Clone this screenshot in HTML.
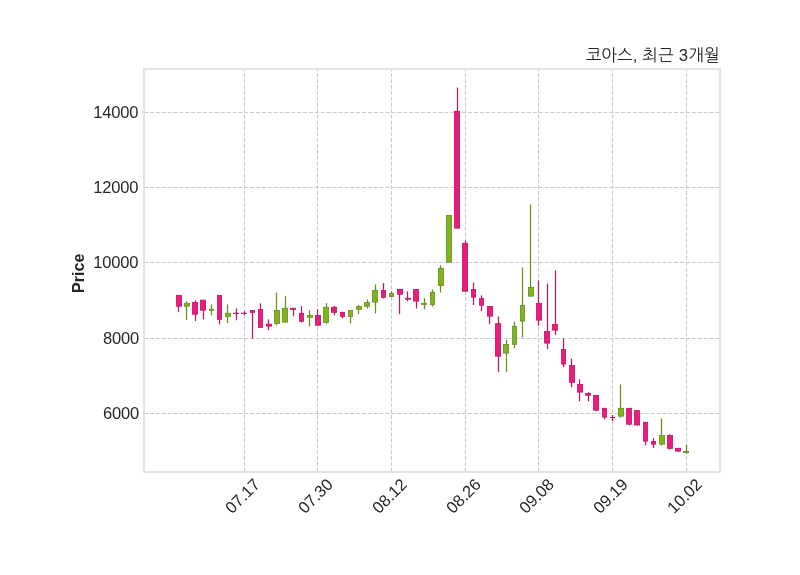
<!DOCTYPE html>
<html lang="ko"><head><meta charset="utf-8"><title>코아스, 최근 3개월</title>
<style>
html,body{margin:0;padding:0;background:#fff;}
svg{display:block}
text{font-family:"Liberation Sans","NanumGothic",sans-serif;fill:#262626}
.tk{font-size:16.5px;letter-spacing:-0.17px}
.xt{font-size:16.5px;letter-spacing:-0.06px}
.ttl{font-family:"Liberation Sans","NanumGothic","Noto Sans CJK KR",sans-serif;font-size:16.67px}
.yl{font-size:16.05px;font-weight:bold}
</style></head><body>
<svg width="800" height="575" viewBox="0 0 800 575">
<rect x="0" y="0" width="800" height="575" fill="#ffffff"/>

<g stroke="#cbcbcb" stroke-width="1.11" stroke-dasharray="4.11 1.78" fill="none">
<line x1="144.0" y1="112.5" x2="720.0" y2="112.5"/>
<line x1="144.0" y1="187.5" x2="720.0" y2="187.5"/>
<line x1="144.0" y1="262.5" x2="720.0" y2="262.5"/>
<line x1="144.0" y1="338.5" x2="720.0" y2="338.5"/>
<line x1="144.0" y1="413.5" x2="720.0" y2="413.5"/>
<line x1="244.5" y1="472.0" x2="244.5" y2="69.0"/>
<line x1="317.5" y1="472.0" x2="317.5" y2="69.0"/>
<line x1="391.5" y1="472.0" x2="391.5" y2="69.0"/>
<line x1="465.5" y1="472.0" x2="465.5" y2="69.0"/>
<line x1="538.5" y1="472.0" x2="538.5" y2="69.0"/>
<line x1="612.5" y1="472.0" x2="612.5" y2="69.0"/>
<line x1="686.5" y1="472.0" x2="686.5" y2="69.0"/>
</g>
<g id="candles">
<line x1="178.5" y1="295.0" x2="178.5" y2="312.25" stroke="#bd1767" stroke-width="1.25"/>
<rect x="176.40" y="295.40" width="5.20" height="10.80" fill="#ee1b7e" stroke="#bd1767" stroke-width="0.8"/>
<line x1="186.5" y1="301.25" x2="186.5" y2="320.25" stroke="#688f1e" stroke-width="1.25"/>
<rect x="184.40" y="303.30" width="5.20" height="2.90" fill="#82b31e" stroke="#688f1e" stroke-width="0.8"/>
<line x1="195.5" y1="300.4" x2="195.5" y2="321.0" stroke="#bd1767" stroke-width="1.25"/>
<rect x="192.40" y="302.30" width="5.20" height="11.90" fill="#ee1b7e" stroke="#bd1767" stroke-width="0.8"/>
<line x1="203.5" y1="299.75" x2="203.5" y2="319.4" stroke="#bd1767" stroke-width="1.25"/>
<rect x="200.40" y="300.15" width="5.20" height="10.05" fill="#ee1b7e" stroke="#bd1767" stroke-width="0.8"/>
<line x1="211.5" y1="304.4" x2="211.5" y2="315.4" stroke="#688f1e" stroke-width="1.25"/>
<rect x="209.40" y="309.15" width="4.20" height="1.45" fill="#82b31e" stroke="#688f1e" stroke-width="0.8"/>
<line x1="219.5" y1="295.0" x2="219.5" y2="324.4" stroke="#bd1767" stroke-width="1.25"/>
<rect x="217.40" y="295.40" width="4.20" height="23.95" fill="#ee1b7e" stroke="#bd1767" stroke-width="0.8"/>
<line x1="227.5" y1="304.4" x2="227.5" y2="323.1" stroke="#688f1e" stroke-width="1.25"/>
<rect x="225.40" y="313.30" width="5.20" height="3.20" fill="#82b31e" stroke="#688f1e" stroke-width="0.8"/>
<line x1="236.5" y1="308.5" x2="236.5" y2="320.25" stroke="#bd1767" stroke-width="1.25"/>
<rect x="233.40" y="313.15" width="5.20" height="0.45" fill="#ee1b7e" stroke="#bd1767" stroke-width="0.8"/>
<line x1="244.5" y1="311.25" x2="244.5" y2="315.0" stroke="#bd1767" stroke-width="1.25"/>
<rect x="241.40" y="313.15" width="5.20" height="0.30" fill="#ee1b7e" stroke="#bd1767" stroke-width="0.8"/>
<line x1="252.5" y1="310.0" x2="252.5" y2="338.5" stroke="#bd1767" stroke-width="1.25"/>
<rect x="250.40" y="310.40" width="4.20" height="1.95" fill="#ee1b7e" stroke="#bd1767" stroke-width="0.8"/>
<line x1="260.5" y1="303.4" x2="260.5" y2="327.75" stroke="#bd1767" stroke-width="1.25"/>
<rect x="258.40" y="309.40" width="4.20" height="17.95" fill="#ee1b7e" stroke="#bd1767" stroke-width="0.8"/>
<line x1="268.5" y1="319.4" x2="268.5" y2="330.2" stroke="#bd1767" stroke-width="1.25"/>
<rect x="266.40" y="324.15" width="5.20" height="1.95" fill="#ee1b7e" stroke="#bd1767" stroke-width="0.8"/>
<line x1="276.5" y1="292.5" x2="276.5" y2="325.25" stroke="#688f1e" stroke-width="1.25"/>
<rect x="274.40" y="310.40" width="5.20" height="12.95" fill="#82b31e" stroke="#688f1e" stroke-width="0.8"/>
<line x1="285.5" y1="296.25" x2="285.5" y2="322.5" stroke="#688f1e" stroke-width="1.25"/>
<rect x="282.40" y="308.30" width="5.20" height="13.80" fill="#82b31e" stroke="#688f1e" stroke-width="0.8"/>
<line x1="293.5" y1="307.9" x2="293.5" y2="316.25" stroke="#bd1767" stroke-width="1.25"/>
<rect x="290.40" y="308.30" width="5.20" height="1.05" fill="#ee1b7e" stroke="#bd1767" stroke-width="0.8"/>
<line x1="301.5" y1="306.25" x2="301.5" y2="322.5" stroke="#bd1767" stroke-width="1.25"/>
<rect x="299.40" y="313.30" width="4.20" height="7.90" fill="#ee1b7e" stroke="#bd1767" stroke-width="0.8"/>
<line x1="309.5" y1="310.25" x2="309.5" y2="326.5" stroke="#688f1e" stroke-width="1.25"/>
<rect x="307.40" y="315.40" width="5.20" height="1.95" fill="#82b31e" stroke="#688f1e" stroke-width="0.8"/>
<line x1="317.5" y1="309.4" x2="317.5" y2="325.6" stroke="#bd1767" stroke-width="1.25"/>
<rect x="315.40" y="315.40" width="5.20" height="9.80" fill="#ee1b7e" stroke="#bd1767" stroke-width="0.8"/>
<line x1="326.5" y1="303.1" x2="326.5" y2="323.75" stroke="#688f1e" stroke-width="1.25"/>
<rect x="323.40" y="307.30" width="5.20" height="15.05" fill="#82b31e" stroke="#688f1e" stroke-width="0.8"/>
<line x1="334.5" y1="306.0" x2="334.5" y2="315.25" stroke="#bd1767" stroke-width="1.25"/>
<rect x="331.40" y="307.30" width="5.20" height="5.05" fill="#ee1b7e" stroke="#bd1767" stroke-width="0.8"/>
<line x1="342.5" y1="311.9" x2="342.5" y2="318.4" stroke="#bd1767" stroke-width="1.25"/>
<rect x="340.40" y="312.30" width="4.20" height="4.20" fill="#ee1b7e" stroke="#bd1767" stroke-width="0.8"/>
<line x1="350.5" y1="310.0" x2="350.5" y2="323.5" stroke="#688f1e" stroke-width="1.25"/>
<rect x="348.40" y="310.40" width="4.20" height="6.10" fill="#82b31e" stroke="#688f1e" stroke-width="0.8"/>
<line x1="358.5" y1="305.0" x2="358.5" y2="314.2" stroke="#688f1e" stroke-width="1.25"/>
<rect x="356.40" y="306.65" width="5.20" height="2.65" fill="#82b31e" stroke="#688f1e" stroke-width="0.8"/>
<line x1="367.5" y1="299.4" x2="367.5" y2="308.5" stroke="#688f1e" stroke-width="1.25"/>
<rect x="364.40" y="302.50" width="5.20" height="3.70" fill="#82b31e" stroke="#688f1e" stroke-width="0.8"/>
<line x1="375.5" y1="284.4" x2="375.5" y2="313.4" stroke="#688f1e" stroke-width="1.25"/>
<rect x="372.40" y="290.40" width="5.20" height="11.70" fill="#82b31e" stroke="#688f1e" stroke-width="0.8"/>
<line x1="383.5" y1="283.1" x2="383.5" y2="298.5" stroke="#bd1767" stroke-width="1.25"/>
<rect x="381.40" y="290.40" width="4.20" height="6.95" fill="#ee1b7e" stroke="#bd1767" stroke-width="0.8"/>
<line x1="391.5" y1="291.25" x2="391.5" y2="297.5" stroke="#688f1e" stroke-width="1.25"/>
<rect x="389.40" y="293.30" width="4.20" height="3.20" fill="#82b31e" stroke="#688f1e" stroke-width="0.8"/>
<line x1="399.5" y1="289.0" x2="399.5" y2="314.1" stroke="#bd1767" stroke-width="1.25"/>
<rect x="397.40" y="289.40" width="5.20" height="4.80" fill="#ee1b7e" stroke="#bd1767" stroke-width="0.8"/>
<line x1="407.5" y1="291.25" x2="407.5" y2="301.25" stroke="#bd1767" stroke-width="1.25"/>
<rect x="405.40" y="298.30" width="5.20" height="0.90" fill="#ee1b7e" stroke="#bd1767" stroke-width="0.8"/>
<line x1="416.5" y1="289.0" x2="416.5" y2="308.5" stroke="#bd1767" stroke-width="1.25"/>
<rect x="413.40" y="289.40" width="5.20" height="11.70" fill="#ee1b7e" stroke="#bd1767" stroke-width="0.8"/>
<line x1="424.5" y1="298.1" x2="424.5" y2="309.4" stroke="#688f1e" stroke-width="1.25"/>
<rect x="421.40" y="303.30" width="5.20" height="1.05" fill="#82b31e" stroke="#688f1e" stroke-width="0.8"/>
<line x1="432.5" y1="289.4" x2="432.5" y2="306.5" stroke="#688f1e" stroke-width="1.25"/>
<rect x="430.40" y="292.30" width="4.20" height="12.30" fill="#82b31e" stroke="#688f1e" stroke-width="0.8"/>
<line x1="440.5" y1="265.25" x2="440.5" y2="292.5" stroke="#688f1e" stroke-width="1.25"/>
<rect x="438.40" y="268.30" width="5.20" height="17.20" fill="#82b31e" stroke="#688f1e" stroke-width="0.8"/>
<line x1="448.5" y1="215.0" x2="448.5" y2="262.5" stroke="#688f1e" stroke-width="1.25"/>
<rect x="446.40" y="215.40" width="5.20" height="46.70" fill="#82b31e" stroke="#688f1e" stroke-width="0.8"/>
<line x1="457.5" y1="87.5" x2="457.5" y2="228.5" stroke="#bd1767" stroke-width="1.25"/>
<rect x="454.40" y="111.30" width="5.20" height="116.80" fill="#ee1b7e" stroke="#bd1767" stroke-width="0.8"/>
<line x1="465.5" y1="240.6" x2="465.5" y2="291.6" stroke="#bd1767" stroke-width="1.25"/>
<rect x="462.40" y="243.30" width="5.20" height="47.90" fill="#ee1b7e" stroke="#bd1767" stroke-width="0.8"/>
<line x1="473.5" y1="282.5" x2="473.5" y2="305.0" stroke="#bd1767" stroke-width="1.25"/>
<rect x="471.40" y="289.40" width="4.20" height="7.70" fill="#ee1b7e" stroke="#bd1767" stroke-width="0.8"/>
<line x1="481.5" y1="295.4" x2="481.5" y2="311.0" stroke="#bd1767" stroke-width="1.25"/>
<rect x="479.40" y="298.50" width="4.20" height="6.70" fill="#ee1b7e" stroke="#bd1767" stroke-width="0.8"/>
<line x1="489.5" y1="306.0" x2="489.5" y2="324.2" stroke="#bd1767" stroke-width="1.25"/>
<rect x="487.40" y="306.40" width="5.20" height="9.70" fill="#ee1b7e" stroke="#bd1767" stroke-width="0.8"/>
<line x1="498.5" y1="316.5" x2="498.5" y2="372.1" stroke="#bd1767" stroke-width="1.25"/>
<rect x="495.40" y="323.70" width="5.20" height="32.40" fill="#ee1b7e" stroke="#bd1767" stroke-width="0.8"/>
<line x1="506.5" y1="339.75" x2="506.5" y2="372.1" stroke="#688f1e" stroke-width="1.25"/>
<rect x="503.40" y="344.50" width="5.20" height="8.60" fill="#82b31e" stroke="#688f1e" stroke-width="0.8"/>
<line x1="514.5" y1="321.5" x2="514.5" y2="348.1" stroke="#688f1e" stroke-width="1.25"/>
<rect x="512.40" y="326.50" width="4.20" height="17.85" fill="#82b31e" stroke="#688f1e" stroke-width="0.8"/>
<line x1="522.5" y1="267.5" x2="522.5" y2="337.25" stroke="#688f1e" stroke-width="1.25"/>
<rect x="520.40" y="305.40" width="4.20" height="15.70" fill="#82b31e" stroke="#688f1e" stroke-width="0.8"/>
<line x1="530.5" y1="204.4" x2="530.5" y2="296.5" stroke="#688f1e" stroke-width="1.25"/>
<rect x="528.40" y="287.40" width="5.20" height="8.70" fill="#82b31e" stroke="#688f1e" stroke-width="0.8"/>
<line x1="538.5" y1="280.5" x2="538.5" y2="325.7" stroke="#bd1767" stroke-width="1.25"/>
<rect x="536.40" y="303.30" width="5.20" height="16.80" fill="#ee1b7e" stroke="#bd1767" stroke-width="0.8"/>
<line x1="547.5" y1="283.5" x2="547.5" y2="349.0" stroke="#bd1767" stroke-width="1.25"/>
<rect x="544.40" y="331.40" width="5.20" height="11.70" fill="#ee1b7e" stroke="#bd1767" stroke-width="0.8"/>
<line x1="555.5" y1="270.5" x2="555.5" y2="335.0" stroke="#bd1767" stroke-width="1.25"/>
<rect x="552.40" y="324.40" width="5.20" height="5.70" fill="#ee1b7e" stroke="#bd1767" stroke-width="0.8"/>
<line x1="563.5" y1="338.5" x2="563.5" y2="367.0" stroke="#bd1767" stroke-width="1.25"/>
<rect x="561.40" y="349.40" width="4.20" height="14.60" fill="#ee1b7e" stroke="#bd1767" stroke-width="0.8"/>
<line x1="571.5" y1="358.6" x2="571.5" y2="387.25" stroke="#bd1767" stroke-width="1.25"/>
<rect x="569.40" y="365.50" width="5.20" height="16.85" fill="#ee1b7e" stroke="#bd1767" stroke-width="0.8"/>
<line x1="579.5" y1="379.4" x2="579.5" y2="401.25" stroke="#bd1767" stroke-width="1.25"/>
<rect x="577.40" y="384.40" width="5.20" height="7.70" fill="#ee1b7e" stroke="#bd1767" stroke-width="0.8"/>
<line x1="588.5" y1="392.1" x2="588.5" y2="401.25" stroke="#bd1767" stroke-width="1.25"/>
<rect x="585.40" y="393.50" width="5.20" height="1.70" fill="#ee1b7e" stroke="#bd1767" stroke-width="0.8"/>
<line x1="596.5" y1="395.0" x2="596.5" y2="411.25" stroke="#bd1767" stroke-width="1.25"/>
<rect x="593.40" y="395.40" width="5.20" height="14.80" fill="#ee1b7e" stroke="#bd1767" stroke-width="0.8"/>
<line x1="604.5" y1="407.9" x2="604.5" y2="419.4" stroke="#bd1767" stroke-width="1.25"/>
<rect x="602.40" y="408.30" width="4.20" height="8.80" fill="#ee1b7e" stroke="#bd1767" stroke-width="0.8"/>
<line x1="612.5" y1="415.0" x2="612.5" y2="421.25" stroke="#bd1767" stroke-width="1.25"/>
<rect x="610.40" y="417.40" width="4.20" height="0.30" fill="#ee1b7e" stroke="#bd1767" stroke-width="0.8"/>
<line x1="620.5" y1="384.4" x2="620.5" y2="417.5" stroke="#688f1e" stroke-width="1.25"/>
<rect x="618.40" y="408.30" width="5.20" height="7.80" fill="#82b31e" stroke="#688f1e" stroke-width="0.8"/>
<line x1="629.5" y1="407.9" x2="629.5" y2="425.4" stroke="#bd1767" stroke-width="1.25"/>
<rect x="626.40" y="408.30" width="5.20" height="15.90" fill="#ee1b7e" stroke="#bd1767" stroke-width="0.8"/>
<line x1="637.5" y1="410.25" x2="637.5" y2="425.4" stroke="#bd1767" stroke-width="1.25"/>
<rect x="634.40" y="410.65" width="5.20" height="14.35" fill="#ee1b7e" stroke="#bd1767" stroke-width="0.8"/>
<line x1="645.5" y1="421.9" x2="645.5" y2="445.4" stroke="#bd1767" stroke-width="1.25"/>
<rect x="643.40" y="422.30" width="4.20" height="18.80" fill="#ee1b7e" stroke="#bd1767" stroke-width="0.8"/>
<line x1="653.5" y1="438.1" x2="653.5" y2="448.1" stroke="#bd1767" stroke-width="1.25"/>
<rect x="651.40" y="441.40" width="4.20" height="2.80" fill="#ee1b7e" stroke="#bd1767" stroke-width="0.8"/>
<line x1="661.5" y1="418.5" x2="661.5" y2="445.4" stroke="#688f1e" stroke-width="1.25"/>
<rect x="659.40" y="435.40" width="5.20" height="8.80" fill="#82b31e" stroke="#688f1e" stroke-width="0.8"/>
<line x1="669.5" y1="434.4" x2="669.5" y2="449.4" stroke="#bd1767" stroke-width="1.25"/>
<rect x="667.40" y="435.40" width="5.20" height="12.95" fill="#ee1b7e" stroke="#bd1767" stroke-width="0.8"/>
<line x1="678.5" y1="447.9" x2="678.5" y2="452.25" stroke="#bd1767" stroke-width="1.25"/>
<rect x="675.40" y="448.30" width="5.20" height="2.80" fill="#ee1b7e" stroke="#bd1767" stroke-width="0.8"/>
<line x1="686.5" y1="444.6" x2="686.5" y2="453.75" stroke="#688f1e" stroke-width="1.25"/>
<rect x="683.40" y="451.40" width="5.20" height="0.95" fill="#82b31e" stroke="#688f1e" stroke-width="0.8"/>
</g>
<rect x="144.0" y="69.0" width="576.0" height="403.0" fill="none" stroke="#e4e4e4" stroke-width="2"/>
<text class="tk" x="138.3" y="117.9" text-anchor="end">14000</text>
<text class="tk" x="138.3" y="192.9" text-anchor="end">12000</text>
<text class="tk" x="138.3" y="267.9" text-anchor="end">10000</text>
<text class="tk" x="139.1" y="343.9" text-anchor="end">8000</text>
<text class="tk" x="139.1" y="418.9" text-anchor="end">6000</text>
<text class="xt" text-anchor="end" transform="translate(261.0,485.5) rotate(-45)">07.17</text>
<text class="xt" text-anchor="end" transform="translate(334.0,485.5) rotate(-45)">07.30</text>
<text class="xt" text-anchor="end" transform="translate(408.0,485.5) rotate(-45)">08.12</text>
<text class="xt" text-anchor="end" transform="translate(482.0,485.5) rotate(-45)">08.26</text>
<text class="xt" text-anchor="end" transform="translate(555.0,485.5) rotate(-45)">09.08</text>
<text class="xt" text-anchor="end" transform="translate(629.0,485.5) rotate(-45)">09.19</text>
<text class="xt" text-anchor="end" transform="translate(703.0,485.5) rotate(-45)">10.02</text>
<text class="yl" text-anchor="middle" transform="translate(84,273.3) rotate(-90)">Price</text>
<text class="ttl" x="719.7" y="61.2" text-anchor="end">코아스,<tspan dx="0.4"> 최근 </tspan><tspan dx="0.45">3</tspan><tspan dx="0.4">개월</tspan></text>
</svg></body></html>
